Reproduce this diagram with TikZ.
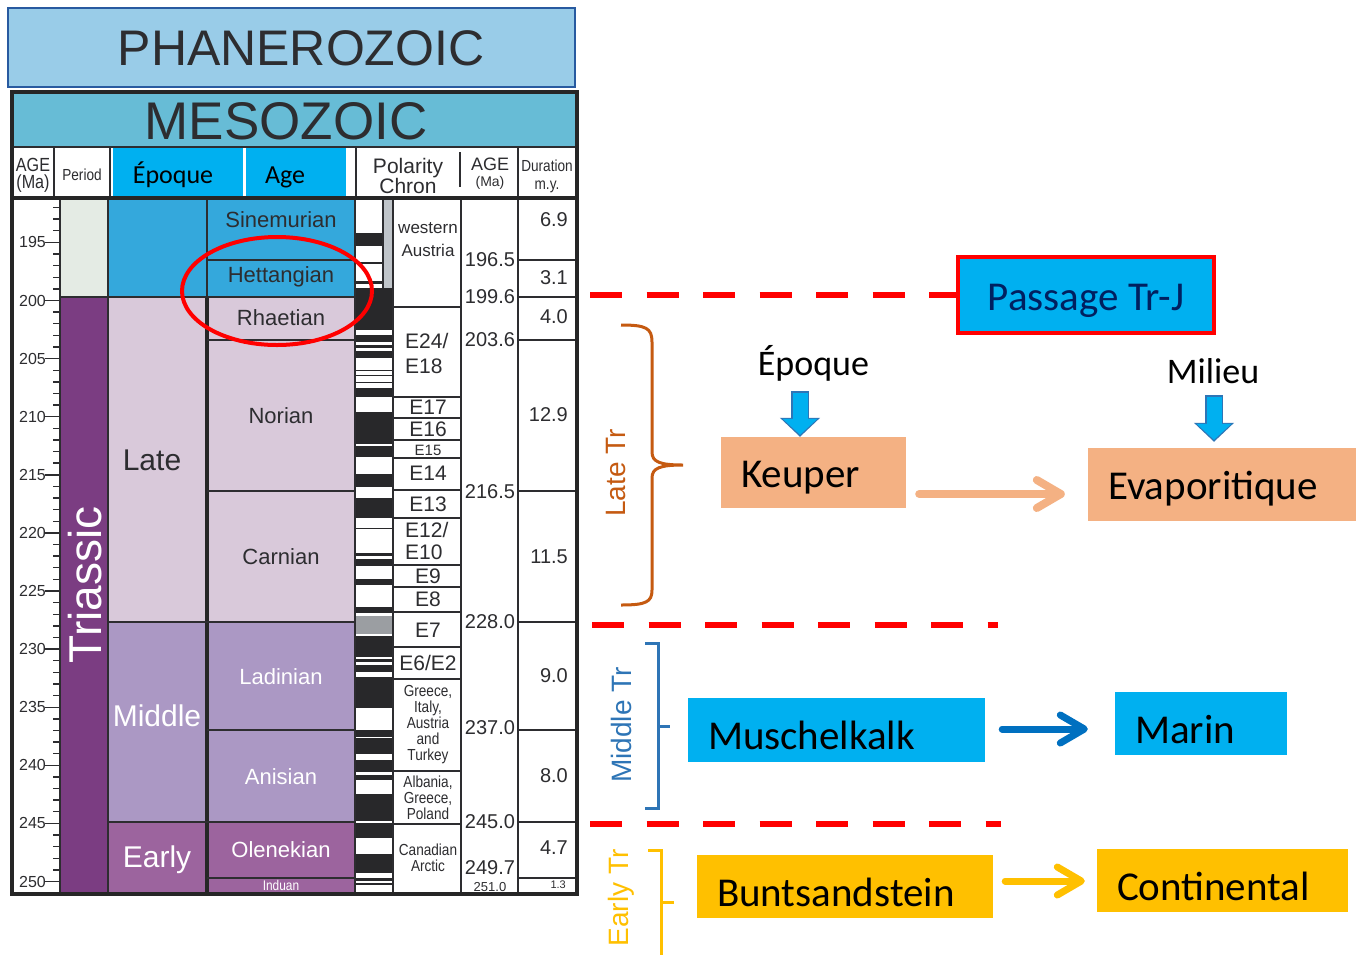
\documentclass[tikz,border=0pt]{standalone}
\usepackage{fontspec}
\setmainfont{Liberation Sans}
\newfontfamily\condsf[FakeStretch=0.85]{Liberation Sans}
\newfontfamily\carlito{Carlito}
\usetikzlibrary{arrows.meta}
\newcommand{\fsz}[2]{\fontsize{#1}{#2}\selectfont}
\definecolor{phanblue}{RGB}{153,204,232}
\definecolor{phanedge}{RGB}{40,90,160}
\definecolor{mesoblue}{RGB}{103,188,214}
\definecolor{hdrcyan}{RGB}{0,176,240}
\definecolor{jurblue}{RGB}{52,168,220}
\definecolor{jurgray}{RGB}{228,235,228}
\definecolor{triaspurple}{RGB}{123,61,130}
\definecolor{latepink}{RGB}{217,201,218}
\definecolor{midlilac}{RGB}{171,152,196}
\definecolor{earlymauve}{RGB}{156,100,158}
\definecolor{inkgray}{RGB}{45,45,48}
\definecolor{polblack}{RGB}{40,40,42}
\definecolor{polgray}{RGB}{155,158,162}
\definecolor{bargray}{RGB}{192,197,202}
\definecolor{keuperorange}{RGB}{244,177,131}
\definecolor{lateorange}{RGB}{197,90,17}
\definecolor{midblue}{RGB}{46,117,182}
\definecolor{arrowblue}{RGB}{0,112,192}
\definecolor{goldyel}{RGB}{255,192,0}
\definecolor{navytext}{RGB}{0,32,96}
\definecolor{dashred}{RGB}{255,0,0}
\tikzset{
  gridline/.style  = {draw=inkgray, line width=1.1pt},
  frameline/.style = {draw=black!85, line width=3.5pt},
  hdrlbl/.style    = {text=inkgray, align=center, inner sep=0pt},
  stagelbl/.style  = {font=\fsz{22}{22}, inner sep=0pt},
  epochlbl/.style  = {font=\fsz{30}{30}, inner sep=0pt},
  chronlbl/.style  = {font=\fsz{21}{25}, text=inkgray, inner sep=0pt},
  placelbl/.style  = {font=\condsf\fsz{16}{16}, text=inkgray, align=center,
                      inner sep=0pt},
  agelbl/.style    = {font=\fsz{20}{20}, text=inkgray, inner sep=0pt},
  durlbl/.style    = {font=\fsz{20}{20}, text=inkgray, anchor=east, inner sep=0pt},
  ticklbl/.style   = {font=\fsz{16}{16}, text=inkgray, anchor=east, inner sep=0pt},
  faciesbox/.style = {font=\carlito\fsz{41}{41}, text=black, align=left,
                      inner xsep=20pt, inner ysep=0pt, text height=39pt,
                      text depth=0pt},
  passbox/.style   = {font=\carlito\fsz{41}{41}, text=navytext, fill=hdrcyan,
                      draw=dashred, line width=3.5pt, inner sep=0pt,
                      minimum width=256pt, minimum height=76pt,
                      text height=30pt, text depth=0pt},
  sidelbl/.style   = {font=\fsz{28}{28}, rotate=90, inner sep=0pt},
  bndline/.style   = {draw=dashred, line width=6pt, dash pattern=on 32pt off 24.5pt},
  flowarr/.style   = {line width=8pt, line cap=round,
                      -{Straight Barb[length=24pt,width=28pt,round]}},
  blkout/.style    = {draw=midblue, line width=18pt,
                      -{Triangle[width=39pt,length=19pt]}},
  blkin/.style     = {draw=hdrcyan, line width=15pt,
                      -{Triangle[width=34pt,length=16pt]}}
}

\begin{document}
\begin{tikzpicture}[x=1pt, y=-1pt]
  \useasboundingbox[fill=white] (0,0) rectangle (1356,954);

  % eon / era banners
  \fill[phanblue] (8,8) rectangle (575,87);
  \draw[draw=phanedge, line width=1.2pt] (8,8) rectangle (575,87);
  \node[font=\fsz{50}{50}, text=inkgray] (phan) at (301,48) {PHANEROZOIC};
  \fill[mesoblue] (12,93) rectangle (576,147);
  \node[font=\fsz{53}{53}, text=inkgray] (meso) at (286,121) {MESOZOIC};

  % column headers
  \fill[hdrcyan] (113,147) rectangle (243,197);
  \fill[hdrcyan] (246,147) rectangle (346,197);
  \draw[gridline] (12,147) -- (577,147);
  \foreach \hx in {54,110,356,518}
    \draw[gridline] (\hx,147) -- (\hx,197);
  \draw[gridline] (460,152) -- (460,187);
  \node[hdrlbl, font=\condsf\fsz{19}{17}] (hage) at (33,175) {AGE\\(Ma)};
  \node[hdrlbl, font=\condsf\fsz{16}{16}] (hper) at (82,175) {Period};
  \node[hdrlbl, font=\carlito\fsz{26}{26}, text=black] (hepq) at (173,175) {Époque};
  \node[hdrlbl, font=\carlito\fsz{26}{26}, text=black] (hstg) at (285,177) {Age};
  \node[hdrlbl, font=\fsz{21}{17}] (hpol) at (408,176) {Polarity\\Chron};
  \node[hdrlbl, font=\fsz{18}{16}] (hage2) at (490,174) {AGE\\{\fsz{14}{16}(Ma)}};
  \node[hdrlbl, font=\condsf\fsz{16}{18}] (hdur) at (547,176) {Duration\\m.y.};

  % period column
  \fill[jurgray] (60,199) rectangle (108,297);
  \fill[triaspurple] (60,297) rectangle (108,893);
  \node[font=\fsz{46}{46}, text=white, rotate=90] (trias) at (85,585) {Triassic};

  % epoch column
  \fill[jurblue] (108,199) rectangle (207,297);
  \fill[latepink] (108,297) rectangle (207,622);
  \fill[midlilac] (108,622) rectangle (207,822);
  \fill[earlymauve] (108,822) rectangle (207,893);
  \node[epochlbl, text=inkgray] (late) at (152,460) {Late};
  \node[epochlbl, text=white] (middle) at (157,716) {Middle};
  \node[epochlbl, text=white] (early) at (157,860) {Early};

  % stage column
  \fill[jurblue] (207,199) rectangle (355,297);
  \fill[latepink] (207,297) rectangle (355,622);
  \fill[midlilac] (207,622) rectangle (355,822);
  \fill[earlymauve] (207,822) rectangle (355,893);
  \foreach \n/\yy/\t/\c in {sin/220/Sinemurian/inkgray, het/277/Hettangian/inkgray,
      rha/318/Rhaetian/inkgray, nor/416/Norian/inkgray, car/557/Carnian/inkgray,
      lad/677/Ladinian/white, ani/777/Anisian/white, ole/850/Olenekian/white}
    \node[stagelbl, text=\c] (\n) at (281,\yy) {\t};
  \node[font=\condsf\fsz{14}{14}, text=white, inner sep=0pt] (ind) at (281,885) {Induan};

  % polarity column
  \fill[bargray] (383,199) rectangle (393,288);
  \foreach \ya/\yb in {233/246, 262/263.5, 281/284}
    \fill[polblack] (355,\ya) rectangle (383,\yb);
  \foreach \ya/\yb in {288/330, 335/342, 345/348, 351/358, 369.5/371, 374.5/376,
      381.5/383, 388/397, 412/444, 446/457, 474/487, 498/518, 527.5/529,
      553/556, 559/566, 579/585, 607/613, 636/657, 659/662, 665/672,
      677/708, 730/737, 738/754, 760/772, 775/780, 794/821, 823/838,
      854/873, 878/881, 883/885}
    \fill[polblack] (355,\ya) rectangle (393,\yb);
  \fill[polgray] (355,616) rectangle (393,634);

  % age axis
  \foreach \a in {192,...,250}{
    \pgfmathsetmacro{\ty}{300.5+(\a-200)*11.62}
    \draw[gridline, line width=1.4pt] (53,\ty) -- (60,\ty);
  }
  \foreach \a in {195,200,...,250}{
    \pgfmathsetmacro{\ty}{300.5+(\a-200)*11.62}
    \draw[gridline, line width=1.4pt] (45,\ty) -- (60,\ty);
    \node[ticklbl] (tk\a) at (46,\ty) {\a};
  }

  % grid lines
  \foreach \vx in {60,108,355,393,461,518}
    \draw[gridline] (\vx,199) -- (\vx,893);
  \draw[gridline] (207,199) -- (207,297);
  \draw[draw=black!85, line width=3.5pt] (207,297) -- (207,893);
  \draw[gridline] (383,199) -- (383,288);
  \draw[gridline] (60,297) -- (108,297);
  \foreach \hy in {297,622,822}
    \draw[gridline] (108,\hy) -- (207,\hy);
  \foreach \hy in {260,297,340,491,622,730,822,878}{
    \draw[gridline] (207,\hy) -- (355,\hy);
    \draw[gridline] (518,\hy) -- (576,\hy);
  }
  \foreach \hy in {307,397,418,440,458,490,518,565,587,612,647,679,771,824}
    \draw[gridline] (393,\hy) -- (461,\hy);

  % chron labels
  \node[chronlbl, font=\fsz{17}{23}, align=center] (cwa) at (428,240) {western\\Austria};
  \node[chronlbl, align=left, anchor=west] (c24) at (405,353) {E24/\\E18};
  \node[chronlbl] (c17) at (428,407) {E17};
  \node[chronlbl] (c16) at (428,429) {E16};
  \node[chronlbl, font=\fsz{15}{15}] (c15) at (428,450) {E15};
  \node[chronlbl] (c14) at (428,473) {E14};
  \node[chronlbl] (c13) at (428,504) {E13};
  \node[chronlbl, align=left, anchor=west, font=\fsz{21}{22}] (c12) at (405,541) {E12/\\E10};
  \node[chronlbl] (c9) at (428,576) {E9};
  \node[chronlbl] (c8) at (428,599) {E8};
  \node[chronlbl] (c7) at (428,630) {E7};
  \node[chronlbl] (c6) at (428,663) {E6/E2};
  \node[placelbl] (cgi) at (428,725) {Greece,\\Italy,\\Austria\\and\\Turkey};
  \node[placelbl] (cag) at (428,798) {Albania,\\Greece,\\Poland};
  \node[placelbl] (cca) at (428,858) {Canadian\\Arctic};

  % ages and durations
  \foreach \n/\yy/\t in {a1/260/196.5, a2/297/199.6, a3/340/203.6, a4/492/216.5,
      a5/622/228.0, a6/728/237.0, a7/822/245.0, a8/868/249.7}
    \node[agelbl] (\n) at (490,\yy) {\t};
  \node[agelbl, font=\fsz{13}{13}] (a9) at (490,887) {251.0};
  \foreach \n/\yy/\t in {d1/220/6.9, d2/278/3.1, d3/317/4.0, d4/415/12.9,
      d5/557/11.5, d6/676/9.0, d7/776/8.0, d8/848/4.7}
    \node[durlbl] (\n) at (568,\yy) {\t};
  \node[durlbl, font=\fsz{11}{11}] (d9) at (566,885) {1.3};

  % outer frame
  \draw[frameline] (12,92) rectangle (577,894);
  \draw[draw=black!85, line width=4pt] (12,198) -- (577,198);

  % boundary mark
  \draw[draw=dashred, line width=4pt] (277,291) ellipse [x radius=95pt, y radius=54pt];

  % right panel
  \coordinate (bnd1) at (590,295);
  \node[passbox] (passage) at (1086,295) {Passage Tr-J};
  \draw[bndline] (bnd1) -- (passage.west);
  \coordinate (bnd2a) at (592,625);
  \coordinate (bnd2b) at (998,625);
  \draw[bndline] (bnd2a) -- (bnd2b);
  \coordinate (bnd3a) at (590,824);
  \coordinate (bnd3b) at (1001,824);
  \draw[bndline] (bnd3a) -- (bnd3b);

  \draw[draw=lateorange, line width=3pt]
    (621,325) .. controls (646,325) and (652,328) .. (652,342) -- (652,452)
    .. controls (652,462) and (660,465) .. (683,465)
    .. controls (660,465) and (652,468) .. (652,478) -- (652,590)
    .. controls (652,602) and (646,605) .. (621,605);
  \node[sidelbl, text=lateorange] (latetr) at (616,473) {Late Tr};

  \draw[draw=midblue, line width=3pt] (645,643) -- (658,643) -- (658,808) -- (645,808);
  \draw[draw=midblue, line width=3pt] (658,726) -- (670,726);
  \node[sidelbl, text=midblue] (midtr) at (621,725) {Middle Tr};

  \draw[draw=goldyel, line width=3pt] (648,850) -- (661,850) -- (661,956);
  \draw[draw=goldyel, line width=3pt] (661,902) -- (674,902);
  \node[sidelbl, text=goldyel] (earlytr) at (621,898) {Early Tr};

  \node[faciesbox, fill=keuperorange, minimum height=71pt, text width=145pt,
        text height=29pt] (keuper) at (813.5,472.5) {Keuper};
  \node[faciesbox, fill=keuperorange, minimum height=73pt, text width=228pt,
        text height=29pt] (evap) at (1222,484.5) {Evaporitique};
  \node[faciesbox, fill=hdrcyan, minimum height=64pt, text width=257pt]
        (musch) at (836.5,730) {Muschelkalk};
  \node[faciesbox, fill=hdrcyan, minimum height=63pt, text width=132pt]
        (marin) at (1201,723.5) {Marin};
  \node[faciesbox, fill=goldyel, minimum height=63pt, text width=256pt]
        (bunts) at (845,886.5) {Buntsandstein};
  \node[faciesbox, fill=goldyel, minimum height=63pt, text width=211pt]
        (conti) at (1222.5,880.5) {Continental};

  \node[font=\carlito\fsz{36}{36}, anchor=base, inner sep=0pt] (epq) at (813.5,375) {Époque};
  \node[font=\carlito\fsz{36}{36}, anchor=base, inner sep=0pt] (mil) at (1213,383) {Milieu};
  \draw[blkout] ([shift={(-13.5,16)}]epq.base) -- ([xshift=-13.5pt]keuper.north);
  \draw[blkin] ([shift={(-13.5,17.5)}]epq.base) -- ([shift={(-13.5,-2)}]keuper.north);
  \draw[blkout] ([shift={(1,12)}]mil.base) -- ([shift={(-8,-6)}]evap.north);
  \draw[blkin] ([shift={(1,13.5)}]mil.base) -- ([shift={(-8,-8)}]evap.north);

  \draw[flowarr, draw=keuperorange] ([shift={(13,21.5)}]keuper.east)
        -- ([shift={(-23,9.5)}]evap.west);
  \draw[flowarr, draw=arrowblue, line width=7pt] ([shift={(17,-1)}]musch.east)
        -- ([shift={(-27,5.5)}]marin.west);
  \draw[flowarr, draw=goldyel, line width=7pt] ([shift={(12,-5.5)}]bunts.east)
        -- ([shift={(-12,0.5)}]conti.west);
\end{tikzpicture}
\end{document}
